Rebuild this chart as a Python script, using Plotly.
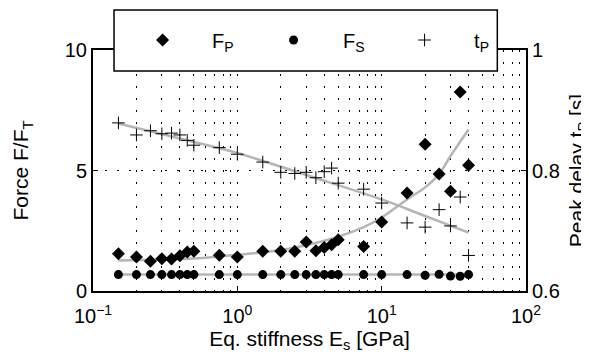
import plotly.graph_objects as go

# ---------------- data ----------------
E = [0.15, 0.2, 0.25, 0.3, 0.35, 0.4, 0.45, 0.5, 0.75, 1.0,
     1.5, 2.0, 2.5, 3.0, 3.5, 4.0, 4.5, 5.0, 7.5, 10.0,
     15, 20, 25, 30, 35, 40]
F_P = [1.55, 1.41, 1.23, 1.34, 1.33, 1.46, 1.62, 1.65, 1.48, 1.41,
       1.65, 1.65, 1.65, 2.03, 1.67, 1.81, 1.92, 2.13, 1.85, 2.86,
       4.07, 6.09, 4.85, 4.14, 8.26, 5.22]
F_S = [0.68, 0.68, 0.68, 0.68, 0.68, 0.68, 0.68, 0.68, 0.68, 0.68,
       0.68, 0.68, 0.68, 0.68, 0.68, 0.68, 0.68, 0.68, 0.68, 0.68,
       0.68, 0.65, 0.69, 0.62, 0.61, 0.68]
t_P = [0.879, 0.859, 0.866, 0.861, 0.862, 0.859, 0.850, 0.842, 0.838, 0.827,
       0.814, 0.797, 0.795, 0.797, 0.788, 0.798, 0.804, 0.779, 0.769, 0.746,
       0.713, 0.706, 0.735, 0.708, 0.756, 0.659]

# grey trend curves
fitP_E = [0.15, 0.5, 1, 2, 3, 5, 7.5, 10, 15, 20, 25, 30, 40]
fitP_F = [1.27, 1.35, 1.5, 1.7, 1.9, 2.25, 2.65, 3.05, 3.8, 4.3, 4.85, 5.6, 6.7]
fitS_E = [0.15, 40]
fitS_F = [0.68, 0.68]
fitT_E = [0.15, 0.4, 1, 3, 10, 20, 40]
fitT_t = [0.878, 0.853, 0.829, 0.7925, 0.752, 0.7245, 0.697]

x_tickvals = [0.1, 1, 10, 100]
x_ticktext = ["10<sup>\u22121</sup>", "10<sup>0</sup>", "10<sup>1</sup>", "10<sup>2</sup>"]
y_tickvals = [0, 5, 10]
y2_tickvals = [0.6, 0.8, 1.0]
y2_ticktext = ["0.6", "0.8", "1"]

FONT = "Liberation Sans, Arial, Helvetica, sans-serif"
GREY = "#b5b5b5"
DOT = "1.5px,10.5px"
TICK_SIZE = 20
TITLE_SIZE = 21

fig = go.Figure()

fig.add_trace(go.Scatter(x=fitP_E, y=fitP_F, mode="lines", line=dict(color=GREY, width=2.5, shape="spline"),
                         showlegend=False, hoverinfo="skip"))
fig.add_trace(go.Scatter(x=fitS_E, y=fitS_F, mode="lines", line=dict(color=GREY, width=2.5),
                         showlegend=False, hoverinfo="skip"))
fig.add_trace(go.Scatter(x=fitT_E, y=fitT_t, mode="lines", line=dict(color=GREY, width=2.5, shape="spline"),
                         showlegend=False, hoverinfo="skip", yaxis="y2"))

fig.add_trace(go.Scatter(x=E, y=F_P, mode="markers", name="F<sub>P</sub>",
                         marker=dict(symbol="diamond", size=10, color="black")))
fig.add_trace(go.Scatter(x=E, y=F_S, mode="markers", name="F<sub>S</sub>",
                         marker=dict(symbol="circle", size=9, color="black")))
fig.add_trace(go.Scatter(x=E, y=t_P, mode="markers", name="t<sub>P</sub>", yaxis="y2",
                         marker=dict(symbol="cross-thin", size=9, color="black",
                                     line=dict(color="black", width=1))))

L, R, T, B = 83, 53, 42, 75
W, H = 589, 358
pw, ph = W - L - R, H - T - B

def px2paper_x(px):
    return (px - L) / pw

def px2paper_y(py):
    return (H - B - py) / ph

fig.update_layout(
    width=W, height=H,
    margin=dict(l=L, r=R, t=T, b=B),
    paper_bgcolor="white", plot_bgcolor="white",
    font=dict(family=FONT, size=TICK_SIZE, color="black"),
    showlegend=True,
    legend=dict(orientation="h", x=px2paper_x(104), xanchor="left",
                y=px2paper_y(32), yanchor="middle",
                bgcolor="rgba(0,0,0,0)", borderwidth=0,
                itemwidth=89, entrywidth=27, entrywidthmode="pixels",
                font=dict(family=FONT, size=20, color="black")),
    xaxis=dict(type="log", range=[-1, 2], tickvals=x_tickvals, ticktext=x_ticktext,
               ticks="inside", ticklen=5, tickwidth=1, tickcolor="black",
               ticklabelstandoff=6,
               showline=True, linecolor="black", linewidth=2, mirror=True,
               showgrid=True, gridcolor="black", gridwidth=1, griddash=DOT,
               minor=dict(dtick="D1", showgrid=True, gridcolor="black", gridwidth=1,
                          griddash=DOT, ticks=""),
               zeroline=False,
               title=dict(text="Eq. stiffness E<sub>s</sub> [GPa]", standoff=5,
                          font=dict(family=FONT, size=TITLE_SIZE))),
    yaxis=dict(range=[0, 10], tickvals=y_tickvals,
               ticks="inside", ticklen=5, tickwidth=1, tickcolor="black",
               showline=True, linecolor="black", linewidth=2,
               showgrid=True, gridcolor="black", gridwidth=1, griddash=DOT,
               zeroline=False,
               title=dict(text="Force F/F<sub>T</sub>", standoff=30,
                          font=dict(family=FONT, size=TITLE_SIZE))),
    yaxis2=dict(range=[0.6, 1.0], tickvals=y2_tickvals, ticktext=y2_ticktext,
                overlaying="y", side="right",
                ticks="inside", ticklen=5, tickwidth=1, tickcolor="black",
                showline=True, linecolor="black", linewidth=2,
                showgrid=False, zeroline=False,
                title=dict(text="Peak delay t<sub>P</sub> [s]", standoff=10,
                           font=dict(family=FONT, size=TITLE_SIZE))),
    shapes=[dict(type="rect", xref="paper", yref="paper",
                 x0=px2paper_x(105), x1=px2paper_x(506),
                 y0=px2paper_y(63), y1=px2paper_y(2),
                 fillcolor="white", line=dict(color="black", width=1.5), layer="above")],
)

fig.write_html("out.html")
